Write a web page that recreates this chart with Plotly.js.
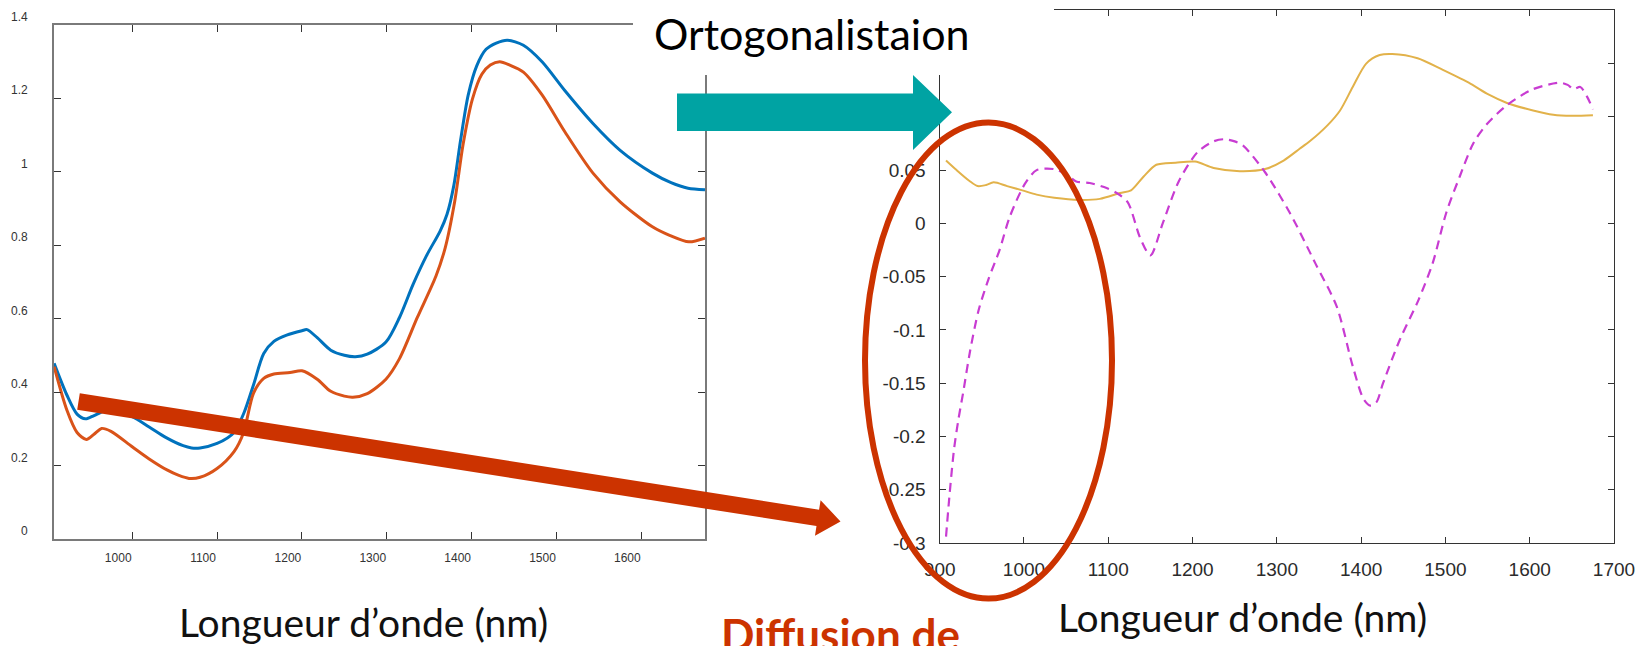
<!DOCTYPE html>
<html>
<head>
<meta charset="utf-8">
<script src="https://cdn.plot.ly/plotly-3.0.1.min.js"></script>
<style>
  html, body { margin: 0; padding: 0; background: #ffffff; }
  #chart { width: 1640px; height: 646px; }
</style>
</head>
<body>
<div id="chart"></div>
<script>
// Raw NIR spectra (absorbance) before correction
const rawBlueX = [908, 923, 935, 945, 955, 967, 983, 1000, 1020, 1040, 1060, 1070, 1080, 1100, 1120, 1132, 1143, 1155, 1167, 1182, 1200, 1206, 1218, 1234, 1250, 1263, 1277, 1299, 1315, 1331, 1347, 1363, 1371, 1379, 1387, 1396, 1406, 1417, 1429, 1442, 1461, 1483, 1510, 1543, 1575, 1613, 1635, 1655, 1675];
const rawBlueY = [0.478, 0.392, 0.340, 0.327, 0.336, 0.348, 0.345, 0.333, 0.305, 0.276, 0.254, 0.248, 0.248, 0.260, 0.290, 0.345, 0.420, 0.505, 0.538, 0.555, 0.567, 0.570, 0.548, 0.514, 0.500, 0.496, 0.503, 0.536, 0.603, 0.693, 0.772, 0.839, 0.884, 0.962, 1.086, 1.209, 1.288, 1.333, 1.350, 1.358, 1.344, 1.299, 1.220, 1.131, 1.058, 0.996, 0.970, 0.955, 0.951];

const rawOrangeX = [908, 923, 935, 946, 955, 964, 975, 1000, 1020, 1041, 1055, 1067, 1080, 1100, 1120, 1131, 1143, 1155, 1167, 1186, 1200, 1218, 1234, 1250, 1260, 1277, 1299, 1315, 1336, 1358, 1369, 1380, 1390, 1401, 1412, 1422, 1433, 1445, 1461, 1483, 1510, 1543, 1575, 1613, 1634, 1656, 1675];
const rawOrangeY = [0.469, 0.351, 0.290, 0.271, 0.285, 0.301, 0.293, 0.251, 0.218, 0.188, 0.173, 0.165, 0.168, 0.192, 0.238, 0.288, 0.397, 0.437, 0.449, 0.453, 0.458, 0.435, 0.402, 0.389, 0.386, 0.396, 0.435, 0.491, 0.603, 0.716, 0.794, 0.918, 1.075, 1.198, 1.265, 1.290, 1.299, 1.290, 1.271, 1.209, 1.108, 0.996, 0.918, 0.850, 0.826, 0.809, 0.819];

// Orthogonalised spectra
const orthoSolidX = [907.5, 920, 935, 945, 955, 964, 980, 998, 1015, 1036, 1066, 1090, 1114, 1127, 1142, 1157, 1180, 1203, 1225, 1256, 1286, 1308, 1327, 1339, 1360, 1375, 1390, 1406, 1422, 1437, 1467, 1497, 1530, 1551, 1573, 1604, 1628, 1650, 1675];
const orthoSolidY = [0.059, 0.050, 0.040, 0.035, 0.036, 0.0385, 0.035, 0.031, 0.027, 0.024, 0.022, 0.023, 0.0285, 0.031, 0.044, 0.055, 0.057, 0.058, 0.052, 0.049, 0.051, 0.059, 0.070, 0.077, 0.092, 0.106, 0.128, 0.150, 0.158, 0.159, 0.155, 0.144, 0.131, 0.121, 0.113, 0.106, 0.102, 0.101, 0.1015];

const orthoDashX = [907.5, 912, 917, 922, 928, 936, 946, 958, 971, 983, 1001, 1015, 1035, 1051, 1062, 1078, 1098, 1110, 1123, 1138, 1150, 1165, 1184, 1206, 1225, 1237, 1250, 1260, 1286, 1316, 1346, 1371, 1390, 1403, 1411, 1418, 1426, 1446, 1468, 1485, 1501, 1517, 1533, 1549, 1573, 1604, 1636, 1645, 1652, 1660, 1668, 1675];
const orthoDashY = [-0.294, -0.252, -0.212, -0.185, -0.158, -0.120, -0.082, -0.052, -0.025, 0.006, 0.037, 0.050, 0.051, 0.0457, 0.0394, 0.0379, 0.0332, 0.0285, 0.020, -0.014, -0.030, 0.001, 0.040, 0.067, 0.077, 0.079, 0.077, 0.073, 0.048, 0.009, -0.038, -0.078, -0.134, -0.165, -0.171, -0.168, -0.150, -0.109, -0.072, -0.037, 0.010, 0.044, 0.075, 0.093, 0.111, 0.126, 0.132, 0.130, 0.126, 0.128, 0.119, 0.107];

// Tick values and labels
const rawXTicks = [1000, 1100, 1200, 1300, 1400, 1500, 1600];
const rawYTicks = [0, 0.2, 0.4, 0.6, 0.8, 1, 1.2, 1.4];
const orthoXTicks = [900, 1000, 1100, 1200, 1300, 1400, 1500, 1600, 1700];
const orthoYTicks = [-0.3, -0.25, -0.2, -0.15, -0.1, -0.05, 0, 0.05, 0.1, 0.15, 0.2];
const orthoYLabels = ['-0.3', '-0.25', '-0.2', '-0.15', '-0.1', '-0.05', '0', '0.05', '', '', ''];

const xTitle = 'Longueur d\u2019onde (nm)';
const headline = 'Ortogonalistaion';
const caption = 'Diffusion de';

// figure-pixel helpers (margins are zero, so paper == figure)
const W = 1640, H = 646;
const px = v => v / W;
const py = v => 1 - v / H;

// red slanted arrow
function slantArrow(x0, y0, x1, y1, half, headLen, headHalf) {
  const dx = x1 - x0, dy = y1 - y0, len = Math.hypot(dx, dy);
  const ux = dx / len, uy = dy / len, nx = -uy, ny = ux;
  const bx = x1 - headLen * ux, by = y1 - headLen * uy;
  const pts = [
    [x0 - half * nx, y0 - half * ny],
    [bx - half * nx, by - half * ny],
    [bx - headHalf * nx, by - headHalf * ny],
    [x1, y1],
    [bx + headHalf * nx, by + headHalf * ny],
    [bx + half * nx, by + half * ny],
    [x0 + half * nx, y0 + half * ny]
  ];
  return 'M' + pts.map(p => px(p[0]) + ',' + py(p[1])).join(' L') + ' Z';
}
function polyPath(pts) {
  return 'M' + pts.map(p => px(p[0]) + ',' + py(p[1])).join(' L') + ' Z';
}

const tickFont = { family: 'Liberation Sans, Arial, sans-serif' };

const traces = [
  { x: rawBlueX, y: rawBlueY, xaxis: 'x', yaxis: 'y', mode: 'lines',
    line: { color: '#0072BD', width: 3, shape: 'spline', smoothing: 0.8 } },
  { x: rawOrangeX, y: rawOrangeY, xaxis: 'x', yaxis: 'y', mode: 'lines',
    line: { color: '#D95319', width: 3, shape: 'spline', smoothing: 0.8 } },
  { x: orthoSolidX, y: orthoSolidY, xaxis: 'x2', yaxis: 'y2', mode: 'lines',
    line: { color: '#E2B24A', width: 2, shape: 'spline', smoothing: 0.8 } },
  { x: orthoDashX, y: orthoDashY, xaxis: 'x2', yaxis: 'y2', mode: 'lines',
    line: { color: '#C83CD2', width: 2.2, dash: '9px,6px', shape: 'spline', smoothing: 0.8 } }
];

const layout = {
  width: W, height: H,
  margin: { l: 0, r: 0, t: 0, b: 0 },
  paper_bgcolor: '#ffffff', plot_bgcolor: '#ffffff',
  showlegend: false,
  xaxis: {
    domain: [px(53.7), px(705)], range: [907.5, 1675],
    tickmode: 'array', tickvals: rawXTicks,
    ticks: 'inside', ticklen: 7, tickcolor: '#333', tickwidth: 1,
    showline: true, linecolor: '#7a7a7a', linewidth: 1.5, mirror: 'ticks',
    showgrid: false, zeroline: false,
    tickfont: Object.assign({ size: 12, color: '#333' }, tickFont),
    ticklabelshift: -14, ticklabelstandoff: 7, fixedrange: true
  },
  yaxis: {
    domain: [py(539), py(24.7)], range: [0, 1.4],
    tickmode: 'array', tickvals: rawYTicks,
    ticks: 'inside', ticklen: 7, tickcolor: '#333', tickwidth: 1,
    showline: true, linecolor: '#7a7a7a', linewidth: 1.5, mirror: 'ticks',
    showgrid: false, zeroline: false,
    tickfont: Object.assign({ size: 12, color: '#333' }, tickFont),
    ticklabelshift: -8, ticklabelstandoff: 22, fixedrange: true
  },
  xaxis2: {
    domain: [px(939.7), px(1614)], range: [900, 1700], anchor: 'y2',
    tickmode: 'array', tickvals: orthoXTicks,
    ticks: 'inside', ticklen: 6, tickcolor: '#333', tickwidth: 1,
    showline: true, linecolor: '#333', linewidth: 1.2, mirror: 'ticks',
    showgrid: false, zeroline: false,
    tickfont: Object.assign({ size: 19, color: '#2b2b2b' }, tickFont),
    ticklabelstandoff: 9, fixedrange: true
  },
  yaxis2: {
    domain: [py(543), py(10.3)], range: [-0.3, 0.2], anchor: 'x2',
    tickmode: 'array', tickvals: orthoYTicks, ticktext: orthoYLabels,
    ticks: 'inside', ticklen: 6, tickcolor: '#333', tickwidth: 1,
    showline: true, linecolor: '#333', linewidth: 1.2, mirror: 'ticks',
    showgrid: false, zeroline: false,
    tickfont: Object.assign({ size: 19, color: '#2b2b2b' }, tickFont),
    ticklabelstandoff: 9, fixedrange: true
  },
  shapes: [
    // blank band behind the headline
    { type: 'rect', xref: 'paper', yref: 'paper', layer: 'above',
      x0: px(633), x1: px(1054), y0: py(75), y1: py(0),
      fillcolor: '#ffffff', line: { width: 0 } },
    // teal arrow
    { type: 'path', xref: 'paper', yref: 'paper', layer: 'above',
      path: polyPath([[677, 93.5], [913, 93.5], [913, 75], [952, 112.3], [913, 150], [913, 131], [677, 131]]),
      fillcolor: '#00A3A3', line: { width: 0 } },
    // red arrow
    { type: 'path', xref: 'paper', yref: 'paper', layer: 'above',
      path: slantArrow(78.5, 401.5, 840.5, 521.5, 8.3, 23, 18),
      fillcolor: '#CC3300', line: { width: 0 } },
    // red ellipse
    { type: 'circle', xref: 'paper', yref: 'paper', layer: 'above',
      x0: px(865), x1: px(1112), y0: py(598.6), y1: py(122.5),
      fillcolor: 'rgba(0,0,0,0)', line: { color: '#CC3300', width: 6 } }
  ],
  annotations: [
    { text: headline, xref: 'paper', yref: 'paper', x: px(812), y: py(34),
      xanchor: 'center', yanchor: 'middle', showarrow: false,
      font: { family: 'Lato, sans-serif', size: 43, color: '#000' } },
    { text: xTitle, xref: 'paper', yref: 'paper', x: px(363), y: py(622),
      xanchor: 'center', yanchor: 'middle', showarrow: false,
      font: { family: 'Lato, sans-serif', size: 39, color: '#111' } },
    { text: xTitle, xref: 'paper', yref: 'paper', x: px(1242), y: py(617),
      xanchor: 'center', yanchor: 'middle', showarrow: false,
      font: { family: 'Lato, sans-serif', size: 39, color: '#111' } },
    { text: '<b>' + caption + '</b>', xref: 'paper', yref: 'paper', x: px(840), y: py(634),
      xanchor: 'center', yanchor: 'middle', showarrow: false,
      font: { family: 'Lato, sans-serif', size: 44, color: '#CC3300' } }
  ]
};

Plotly.newPlot('chart', traces, layout, { displayModeBar: false, staticPlot: true });
</script>
</body>
</html>
